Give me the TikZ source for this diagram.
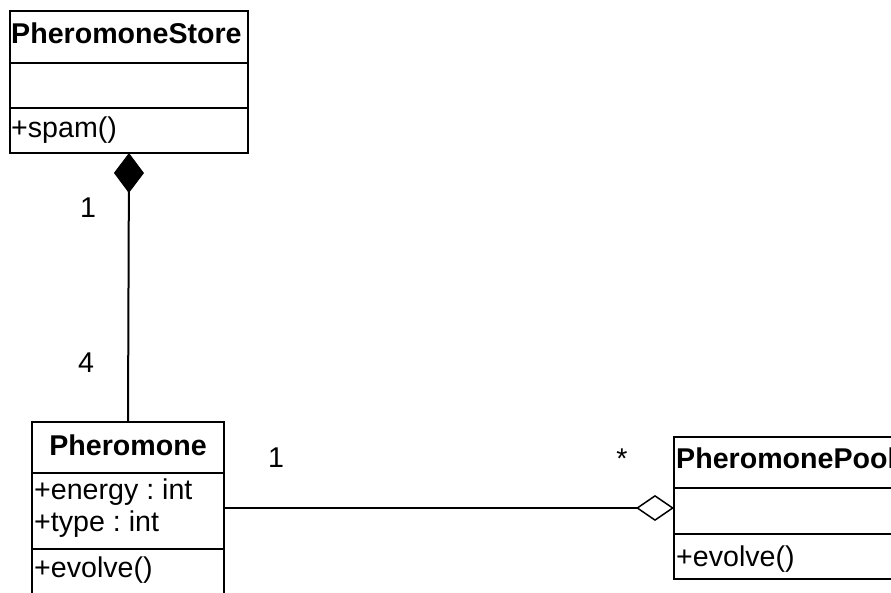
\documentclass[tikz,border=0pt]{standalone}
\usepackage{fontspec}
\setmainfont{Liberation Sans}
\usetikzlibrary{arrows.meta}
\frenchspacing

\tikzset{
  classbox/.style={draw, line width=2pt, inner sep=0pt, outer sep=0pt},
  member/.style={anchor=base west, inner sep=0pt, font=\fontsize{28.6}{34}\selectfont},
  classname/.style={member, font=\fontsize{28.6}{34}\selectfont\bfseries},
  mult/.style={anchor=base, inner sep=0pt, font=\fontsize{28.6}{34}\selectfont},
  link/.style={line width=2pt}
}

\begin{document}
\begin{tikzpicture}[x=1pt, y=-1pt]
  \clip (0,0) rectangle (891,593);
  \fill[white] (0,0) rectangle (891,593);

  % Le tre classi
  \node[classbox, minimum width=238pt, minimum height=142pt] (store) at (129,82) {};
  \node[classbox, minimum width=192pt, minimum height=172pt] (pher) at (128,508) {};
  \node[classbox, minimum width=280pt, minimum height=142pt] (pool) at (814,508) {};

  % Separatori dei compartimenti
  \draw[line width=2pt] (store.west |- 0,63) -- (store.east |- 0,63);
  \draw[line width=2pt] (store.west |- 0,108) -- (store.east |- 0,108);
  \draw[line width=2pt] (pher.west |- 0,473) -- (pher.east |- 0,473);
  \draw[line width=2pt] (pher.west |- 0,549) -- (pher.east |- 0,549);
  \draw[line width=2pt] (pool.west |- 0,488) -- (pool.east |- 0,488);
  \draw[line width=2pt] (pool.west |- 0,534) -- (pool.east |- 0,534);

  % Nomi e membri
  \node[classname] (storename) at (11,44) {PheromoneStore};
  \node[member] (storespam) at (11,138) {+spam()};
  \node[classname, anchor=base] (phername) at (128,455) {Pheromone};
  \node[member] (pherenergy) at (34,499) {+energy : int};
  \node[member] (phertype) at (34,531) {+type : int};
  \node[member] (pherevolve) at (34,577) {+evolve()};
  \node[classname] (poolname) at (676,468) {PheromonePool};
  \node[member] (poolevolve) at (676,566) {+evolve()};

  % Associazioni
  \draw[link, {Diamond[fill=black, length=40pt, width=30pt, line width=1pt]}-] (store.south) -- (pher.north);
  \draw[link, -{Diamond[open, fill=white, length=38pt, width=26pt, line width=1.5pt]}] (pher.east) -- (pool.west);

  % Molteplicita
  \node[mult] (m1) at (88,218) {1};
  \node[mult] (m4) at (86,372) {4};
  \node[mult] (m1b) at (276,467) {1};
  \node[mult] (mstar) at (622,468) {*};
\end{tikzpicture}
\end{document}
